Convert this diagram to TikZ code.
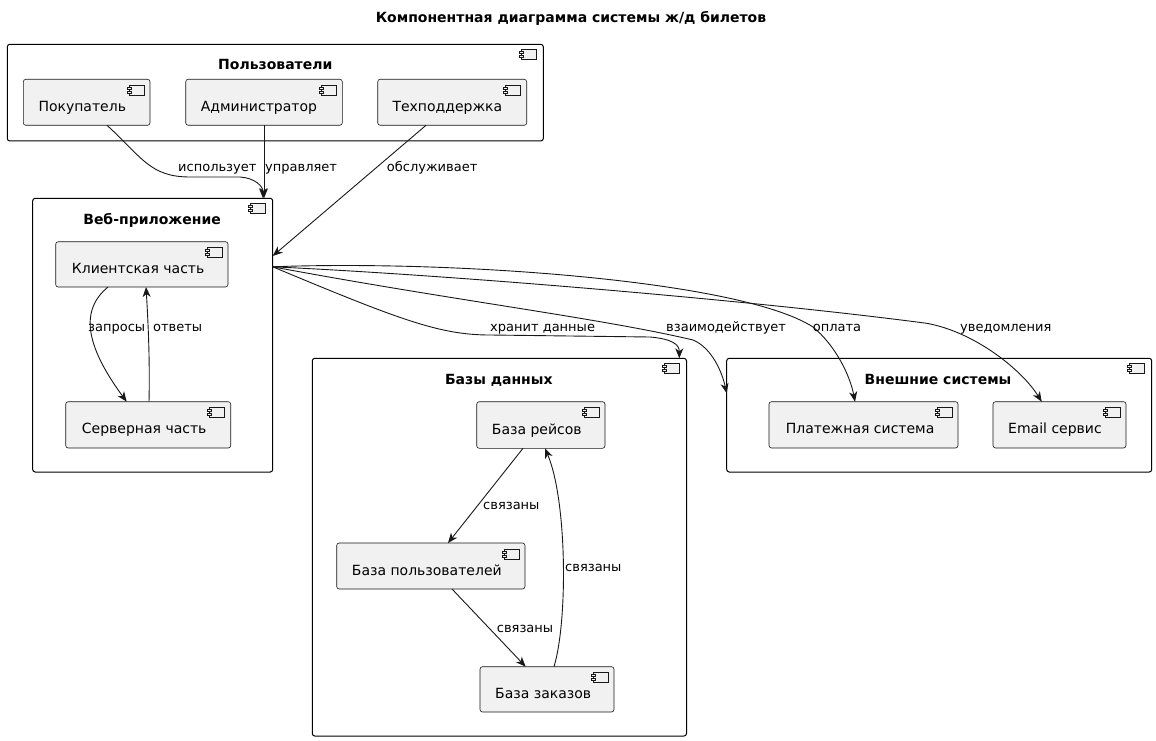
\documentclass[tikz,border=0pt]{standalone}
\usepackage{fontspec}
\setmainfont{DejaVu Sans}
\usetikzlibrary{calc,arrows.meta}
\definecolor{compfill}{HTML}{F1F1F1}
\definecolor{compline}{HTML}{181818}
\begin{document}
\begin{tikzpicture}[x=1pt,y=-1pt,
  outerbox/.style={draw=black,line width=1pt,fill=white,rounded corners=2.5pt,inner sep=0pt,outer sep=0pt,anchor=north west},
  compbox/.style={draw=compline,line width=0.6pt,fill=compfill,rounded corners=2.5pt,inner sep=0pt,outer sep=0pt,anchor=north west},
  nm/.style={font=\fontsize{14}{16}\selectfont,inner sep=0pt,anchor=base west},
  ttl/.style={font=\fontsize{14}{16}\selectfont\bfseries,inner sep=0pt,anchor=base},
  lbl/.style={font=\fontsize{13}{15}\selectfont,inner sep=0pt,anchor=base west},
  conn/.style={draw=compline,line width=0.9pt,-{Stealth[length=10pt,width=8pt,inset=3pt]}},
  icon/.pic={
    \draw[compline,line width=0.6pt,fill=compfill] (0,0) rectangle (15,10);
    \draw[compline,line width=0.6pt,fill=compfill] (-2,2) rectangle (2,4);
    \draw[compline,line width=0.6pt,fill=compfill] (-2,6) rectangle (2,8);
  }]
\useasboundingbox (0,0) rectangle (1156,741);

% title
\node[ttl] (title) at (571,23) {Компонентная диаграмма системы ж/д билетов};

% outer boxes
\node[outerbox,minimum width=536,minimum height=96.7] (users) at (7.3,44.3) {};
\node[outerbox,minimum width=240,minimum height=273.7] (web) at (32.7,198.3) {};
\node[outerbox,minimum width=374.2,minimum height=377.7] (db) at (312.3,358.3) {};
\node[outerbox,minimum width=425,minimum height=113.7] (ext) at (726.7,358.3) {};

\foreach \b in {users,web,db,ext} {
  \pic at ($(\b.north east)+(-22,5)$) {icon};
}

\node[ttl] (usersT) at ($(users.north)+(0,25.7)$) {Пользователи};
\node[ttl] (webT) at ($(web.north)+(-0.6,25.7)$) {Веб-приложение};
\node[ttl] (dbT) at ($(db.north)+(-0.6,25.7)$) {Базы данных};
\node[ttl] (extT) at ($(ext.north)+(-1.2,25.7)$) {Внешние системы};

% components
\node[compbox,minimum width=126.7,minimum height=46] (pk) at (23.3,79.3) {};
\node[compbox,minimum width=156.6,minimum height=46] (adm) at (185.7,79.3) {};
\node[compbox,minimum width=149,minimum height=46] (th) at (377.7,79.3) {};
\node[compbox,minimum width=172.3,minimum height=45.3] (cl) at (55.7,241.7) {};
\node[compbox,minimum width=165,minimum height=46.3] (sv) at (65.7,401.7) {};
\node[compbox,minimum width=128.3,minimum height=46.6] (rs) at (476.7,401.7) {};
\node[compbox,minimum width=188.3,minimum height=46] (us) at (336.7,543) {};
\node[compbox,minimum width=134,minimum height=45.3] (zk) at (480,666.7) {};
\node[compbox,minimum width=189,minimum height=46.3] (pay) at (769,401.7) {};
\node[compbox,minimum width=133,minimum height=46.3] (em) at (993,401.7) {};

\foreach \b in {pk,adm,th,cl,sv,rs,us,zk,pay,em} {
  \pic at ($(\b.north east)+(-21,6)$) {icon};
}

\node[nm] (pkT) at ($(pk.west)+(15,9)$) {Покупатель};
\node[nm] (admT) at ($(adm.west)+(15,9)$) {Администратор};
\node[nm] (thT) at ($(th.west)+(14.6,9)$) {Техподдержка};
\node[nm] (clT) at ($(cl.west)+(16,9)$) {Клиентская часть};
\node[nm] (svT) at ($(sv.west)+(16,9)$) {Серверная часть};
\node[nm] (rsT) at ($(rs.west)+(15,9)$) {База рейсов};
\node[nm] (usT) at ($(us.west)+(15,9)$) {База пользователей};
\node[nm] (zkT) at ($(zk.west)+(15,9)$) {База заказов};
\node[nm] (payT) at ($(pay.west)+(16.7,9)$) {Платежная система};
\node[nm] (emT) at ($(em.west)+(15,9)$) {Email сервис};

% connectors: users -> web
\draw[conn] ($(pk.south west)+(83.7,0)$) .. controls +(35,32) and +(-40,0) .. (190,177)
  -- (240,177) .. controls (255,178) and ($(web.north west)+(230.3,-12)$) .. ($(web.north west)+(230.3,0)$);
\draw[conn] ($(adm.south west)+(78.3,0)$) -- ($(web.north west)+(231.3,0)$);
\draw[conn] ($(th.south west)+(48.3,0)$) -- ($(web.north east)+(0,57.7)$);

\node[lbl] (l1) at (178,171.5) {использует};
\node[lbl] (l2) at (265,171.5) {управляет};
\node[lbl] (l3) at (386.7,171.5) {обслуживает};

% inside web
\draw[conn] ($(cl.south west)+(52.3,0)$) .. controls (80,310) and (85,345) .. ($(sv.north west)+(61,0)$);
\draw[conn] ($(sv.north west)+(83.3,0)$) .. controls (150,360) and (148,320) .. ($(cl.south west)+(90.3,0)$);
\node[lbl] (l4) at (88,331.5) {запросы};
\node[lbl] (l5) at (153,331.5) {ответы};

% web -> others
\coordinate (ws) at ($(web.north east)+(0,68.5)$);
\draw[conn] (ws) .. controls (400,320) and (440,335) .. (490,335)
  -- (650,337) .. controls (672,339) and ($(db.north west)+(367,-14)$) .. ($(db.north west)+(367,0)$);
\draw[conn] (ws) .. controls (450,300) and (600,318) .. (693,340)
  .. controls (712,348) and (722,372) .. ($(ext.north west)+(0,35)$);
\draw[conn] (ws) .. controls (450,260) and (740,280) .. (813,327)
  .. controls (835,345) and (850,375) .. ($(pay.north west)+(86,0)$);
\draw[conn] (ws) .. controls (450,275) and (750,300) .. (926.7,323.3)
  .. controls (975,332) and (1022,370) .. ($(em.north west)+(48.7,0)$);
\node[lbl] (l6) at (490,331.5) {хранит данные};
\node[lbl] (l7) at (666,331.5) {взаимодействует};
\node[lbl] (l8) at (812.7,331.5) {оплата};
\node[lbl] (l9) at (960,331.5) {уведомления};

% inside db
\draw[conn] ($(rs.south west)+(46.3,0)$) -- ($(us.north west)+(111.3,0)$);
\draw[conn] ($(us.south west)+(115.3,0)$) -- ($(zk.north west)+(45.7,0)$);
\draw[conn] ($(zk.north west)+(74,0)$) .. controls (568,620) and (567,500) .. ($(rs.south west)+(68.3,0)$);
\node[lbl] (l10) at (483,509.5) {связаны};
\node[lbl] (l11) at (496.7,632.5) {связаны};
\node[lbl] (l12) at (565,571.5) {связаны};
\end{tikzpicture}
\end{document}
